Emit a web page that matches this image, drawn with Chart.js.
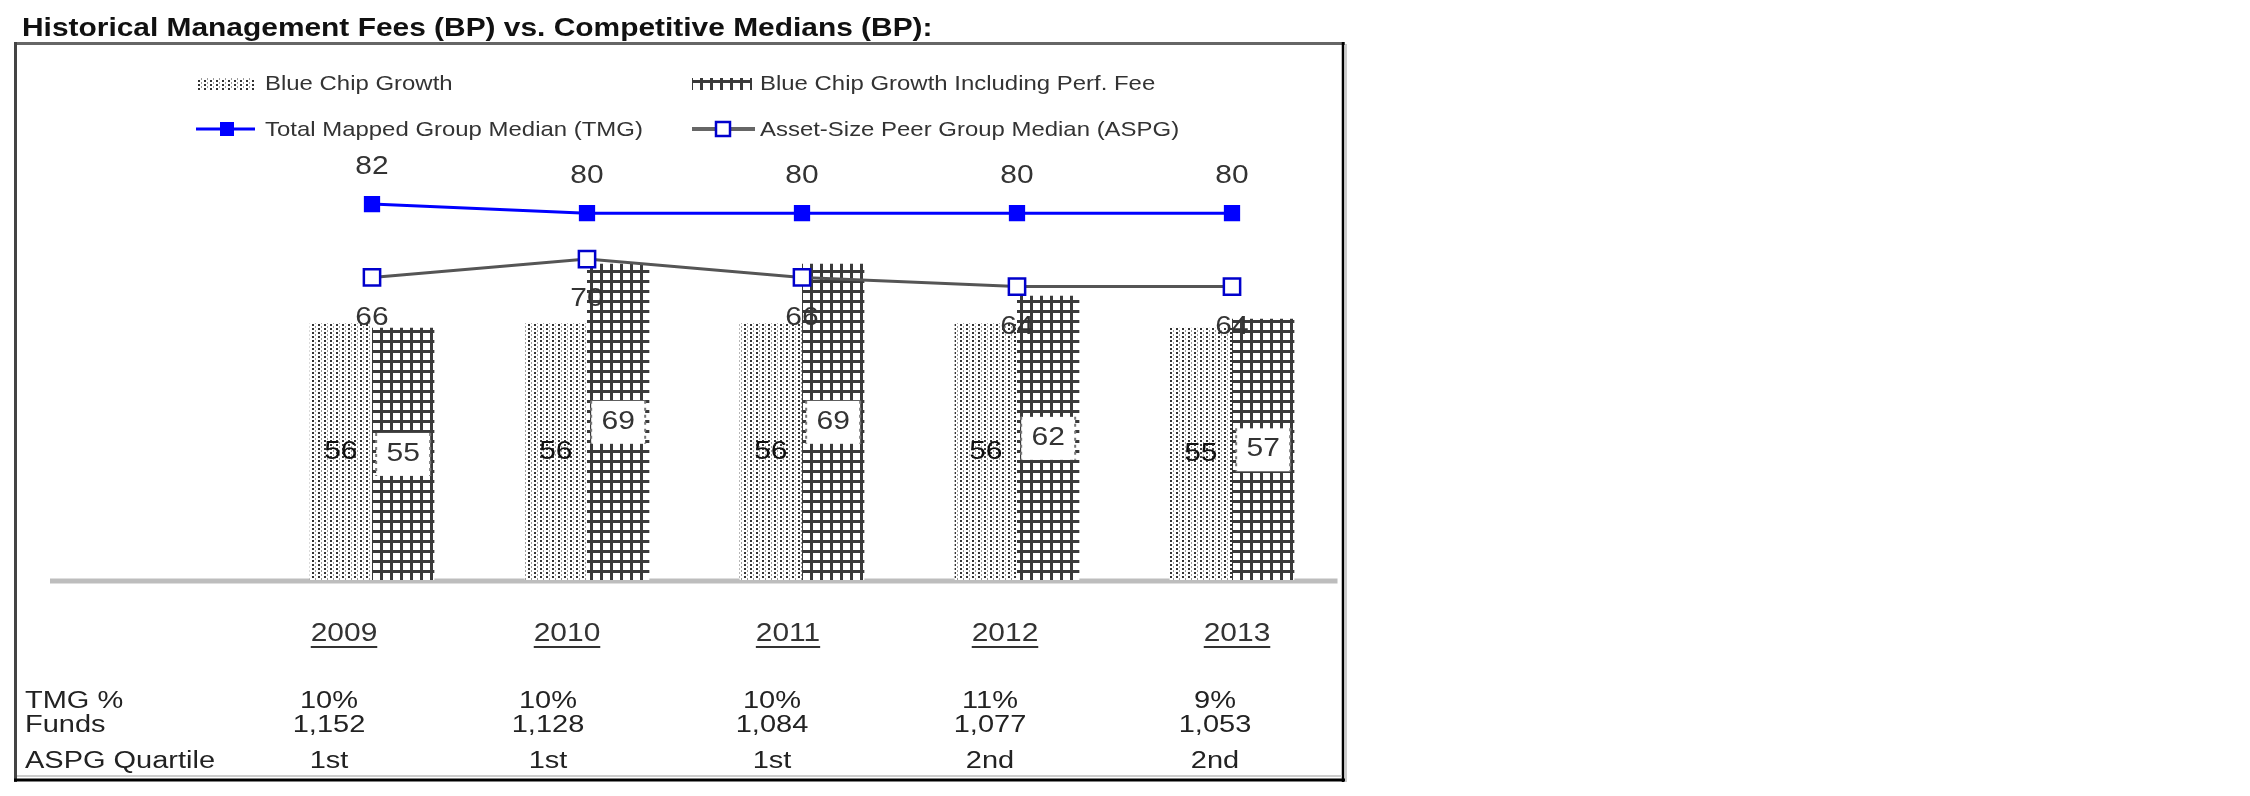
<!DOCTYPE html>
<html lang="en">
<head>
<meta charset="UTF-8">
<title>Historical Management Fees vs. Competitive Medians</title>
<script src="https://cdn.jsdelivr.net/npm/chart.js"></script>
<style>
  html, body { margin: 0; padding: 0; background: #fff; }
  canvas { display: block; }
</style>
</head>
<body>
<canvas id="feeChart" width="2250" height="796"></canvas>
<script>
const chartTitle = 'Historical Management Fees (BP) vs. Competitive Medians (BP):';
const years = ['2009', '2010', '2011', '2012', '2013'];
const blueChip = [56, 56, 56, 56, 55];
const blueChipPerf = [55, 69, 69, 62, 57];
const tmgMedian = [82, 80, 80, 80, 80];
const aspgMedian = [66, 70, 66, 64, 64];
const rowLabels = ['TMG %', 'Funds', 'ASPG Quartile'];
const tmgPct = ['10%', '10%', '10%', '11%', '9%'];
const funds = [1152, 1128, 1084, 1077, 1053];
const aspgQuartile = ['1st', '1st', '1st', '2nd', '2nd'];

const FONT = '"Liberation Sans", Arial, sans-serif';
// text boxes in the original sit a little left of each category centre
const yearShift = [-28, -20, -14, -12, 5];
const tableShift = [-43, -39, -30, -27, -17];

function makePattern(w, h, draw) {
    const c = document.createElement('canvas');
    c.width = w; c.height = h;
    const g = c.getContext('2d');
    g.fillStyle = '#fff';
    g.fillRect(0, 0, w, h);
    draw(g);
    return g.createPattern(c, 'repeat');
}

const ctx = document.getElementById('feeChart').getContext('2d');

const dotted = makePattern(6, 4, g => {
    g.fillStyle = '#333';
    g.fillRect(0, 0, 2, 2);
    g.fillStyle = '#999';
    g.fillRect(3, 2, 1, 2);
});
const hatched = makePattern(10, 10, g => {
    g.fillStyle = '#3a3a3a';
    g.fillRect(0, 0, 10, 3);
    g.fillRect(0, 0, 3, 10);
});

// the original text is slightly stretched sideways, so draw with a horizontal scale
function text(c, str, x, y, size, opts = {}) {
    c.save();
    c.font = (opts.bold ? 'bold ' : '') + size + 'px ' + FONT;
    c.fillStyle = opts.color || '#222';
    c.textAlign = opts.align || 'center';
    c.textBaseline = opts.baseline || 'middle';
    c.translate(x, y);
    c.scale(opts.sx || 1.15, 1);
    c.fillText(str, 0, 0);
    const w = c.measureText(str).width * (opts.sx || 1.15);
    c.restore();
    return w;
}

const framePlugin = {
    id: 'frame',
    beforeDraw(chart) {
        const c = chart.ctx;
        c.save();
        c.fillStyle = '#fff';
        c.fillRect(0, 0, chart.width, chart.height);
        text(c, chartTitle, 22, 36, 26, { bold: true, align: 'left', baseline: 'alphabetic', color: '#111', sx: 1.15 });
        c.lineWidth = 3;
        c.strokeStyle = '#666';
        c.beginPath(); c.moveTo(14, 43.5); c.lineTo(1345, 43.5); c.stroke();
        c.strokeStyle = '#444';
        c.beginPath(); c.moveTo(15.5, 42); c.lineTo(15.5, 782); c.stroke();
        c.strokeStyle = '#000';
        c.lineWidth = 2.5;
        c.beginPath(); c.moveTo(1343, 42); c.lineTo(1343, 782); c.stroke();
        c.lineWidth = 3;
        c.beginPath(); c.moveTo(14, 780); c.lineTo(1345, 780); c.stroke();
        c.strokeStyle = '#ccc';
        c.lineWidth = 2;
        c.beginPath(); c.moveTo(1346, 44); c.lineTo(1346, 782); c.stroke();
        c.beginPath(); c.moveTo(17, 776); c.lineTo(1342, 776); c.stroke();
        c.restore();
    },
    beforeDatasetsDraw(chart) {
        const c = chart.ctx;
        const y0 = chart.scales.y.getPixelForValue(0);
        c.save();
        c.strokeStyle = '#bdbdbd';
        c.lineWidth = 5;
        c.beginPath(); c.moveTo(50, y0 + 1); c.lineTo(chart.chartArea.right - 2, y0 + 1); c.stroke();
        c.restore();
    }
};

const labelPlugin = {
    id: 'valueLabels',
    afterDatasetsDraw(chart) {
        const c = chart.ctx;
        // bar values, centred in the bar
        chart.getDatasetMeta(0).data.forEach((bar, i) => {
            text(c, String(blueChip[i]), bar.x, (bar.y + bar.base) / 2, 25, { color: '#111', sx: 1.2 });
        });
        chart.getDatasetMeta(1).data.forEach((bar, i) => {
            const my = (bar.y + bar.base) / 2;
            c.save();
            c.fillStyle = '#fff';
            c.fillRect(bar.x - 27, my - 21, 54, 43);
            c.strokeStyle = '#777';
            c.lineWidth = 2;
            c.setLineDash([3, 4]);
            c.beginPath();
            c.moveTo(bar.x - 27, my - 21); c.lineTo(bar.x - 27, my + 22);
            c.moveTo(bar.x + 27, my - 21); c.lineTo(bar.x + 27, my + 22);
            c.stroke();
            c.restore();
            text(c, String(blueChipPerf[i]), bar.x, my, 25, { color: '#333', sx: 1.2 });
        });
        chart.getDatasetMeta(2).data.forEach((pt, i) => {
            text(c, String(tmgMedian[i]), pt.x, pt.y - 37, 26, { color: '#333' });
        });
        chart.getDatasetMeta(3).data.forEach((pt, i) => {
            text(c, String(aspgMedian[i]), pt.x, pt.y + 40, 26, { color: '#333' });
        });
    }
};

const extrasPlugin = {
    id: 'legendAndTable',
    afterDraw(chart) {
        const c = chart.ctx;
        const ds = chart.data.datasets;
        // legend, two rows of two
        c.save();
        c.fillStyle = dotted;
        c.fillRect(197, 78, 58, 12);
        c.fillStyle = hatched;
        c.fillRect(692, 78, 60, 12);
        c.lineWidth = 3;
        c.strokeStyle = '#0000ff';
        c.beginPath(); c.moveTo(196, 129); c.lineTo(255, 129); c.stroke();
        c.fillStyle = '#0000ff';
        c.fillRect(220, 122, 14, 14);
        c.strokeStyle = '#666';
        c.lineWidth = 4;
        c.beginPath(); c.moveTo(692, 129); c.lineTo(755, 129); c.stroke();
        c.fillStyle = '#fff';
        c.fillRect(716, 122, 14, 14);
        c.strokeStyle = '#0000cc';
        c.lineWidth = 2.5;
        c.strokeRect(716, 122, 14, 14);
        c.restore();
        const lg = { align: 'left', color: '#333', sx: 1.14 };
        text(c, ds[0].label, 265, 84, 21, lg);
        text(c, ds[1].label, 760, 84, 21, lg);
        text(c, ds[2].label, 265, 130, 21, lg);
        text(c, ds[3].label, 760, 130, 21, lg);

        // year headers and data table below the axis
        const xs = chart.scales.x;
        years.forEach((yr, i) => {
            const x = xs.getPixelForValue(i) + yearShift[i];
            const w = text(c, yr, x, 634, 26, { color: '#333', sx: 1.15 });
            c.fillStyle = '#333';
            c.fillRect(x - w / 2, 646, w, 2);
        });
        const rowY = [702, 726, 762];
        const tb = { color: '#222', sx: 1.26 };
        rowLabels.forEach((lab, r) => text(c, lab, 25, rowY[r], 23, { align: 'left', color: '#222', sx: 1.26 }));
        years.forEach((yr, i) => {
            const x = xs.getPixelForValue(i) + tableShift[i];
            text(c, tmgPct[i], x, rowY[0], 23, tb);
            text(c, funds[i].toLocaleString('en-US'), x, rowY[1], 23, tb);
            text(c, aspgQuartile[i], x, rowY[2], 23, tb);
        });
    }
};

new Chart(ctx, {
    type: 'bar',
    data: {
        labels: years,
        datasets: [
            {
                label: 'Blue Chip Growth',
                data: blueChip,
                backgroundColor: dotted,
                borderWidth: 0,
                categoryPercentage: 0.58,
                barPercentage: 1,
                order: 1
            },
            {
                label: 'Blue Chip Growth Including Perf. Fee',
                data: blueChipPerf,
                backgroundColor: hatched,
                borderWidth: 0,
                categoryPercentage: 0.58,
                barPercentage: 1,
                order: 1
            },
            {
                type: 'line',
                label: 'Total Mapped Group Median (TMG)',
                data: tmgMedian,
                borderColor: '#0000ff',
                borderWidth: 3,
                tension: 0,
                pointStyle: 'rect',
                pointRadius: 11.5,
                pointBackgroundColor: '#0000ff',
                pointBorderColor: '#0000ff',
                pointBorderWidth: 0,
                order: 0
            },
            {
                type: 'line',
                label: 'Asset-Size Peer Group Median (ASPG)',
                data: aspgMedian,
                borderColor: '#555',
                borderWidth: 3,
                tension: 0,
                pointStyle: 'rect',
                pointRadius: 11.5,
                pointBackgroundColor: '#fff',
                pointBorderColor: '#0000cc',
                pointBorderWidth: 2.5,
                order: 0
            }
        ]
    },
    options: {
        responsive: false,
        devicePixelRatio: 1,
        animation: false,
        layout: { padding: { left: 264.5, right: 910.5, top: 121.5, bottom: 216 } },
        scales: {
            x: { display: false, offset: true },
            y: { display: false, min: 0, max: 100 }
        },
        plugins: {
            legend: { display: false },
            tooltip: { enabled: false }
        }
    },
    plugins: [framePlugin, labelPlugin, extrasPlugin]
});
</script>
</body>
</html>
